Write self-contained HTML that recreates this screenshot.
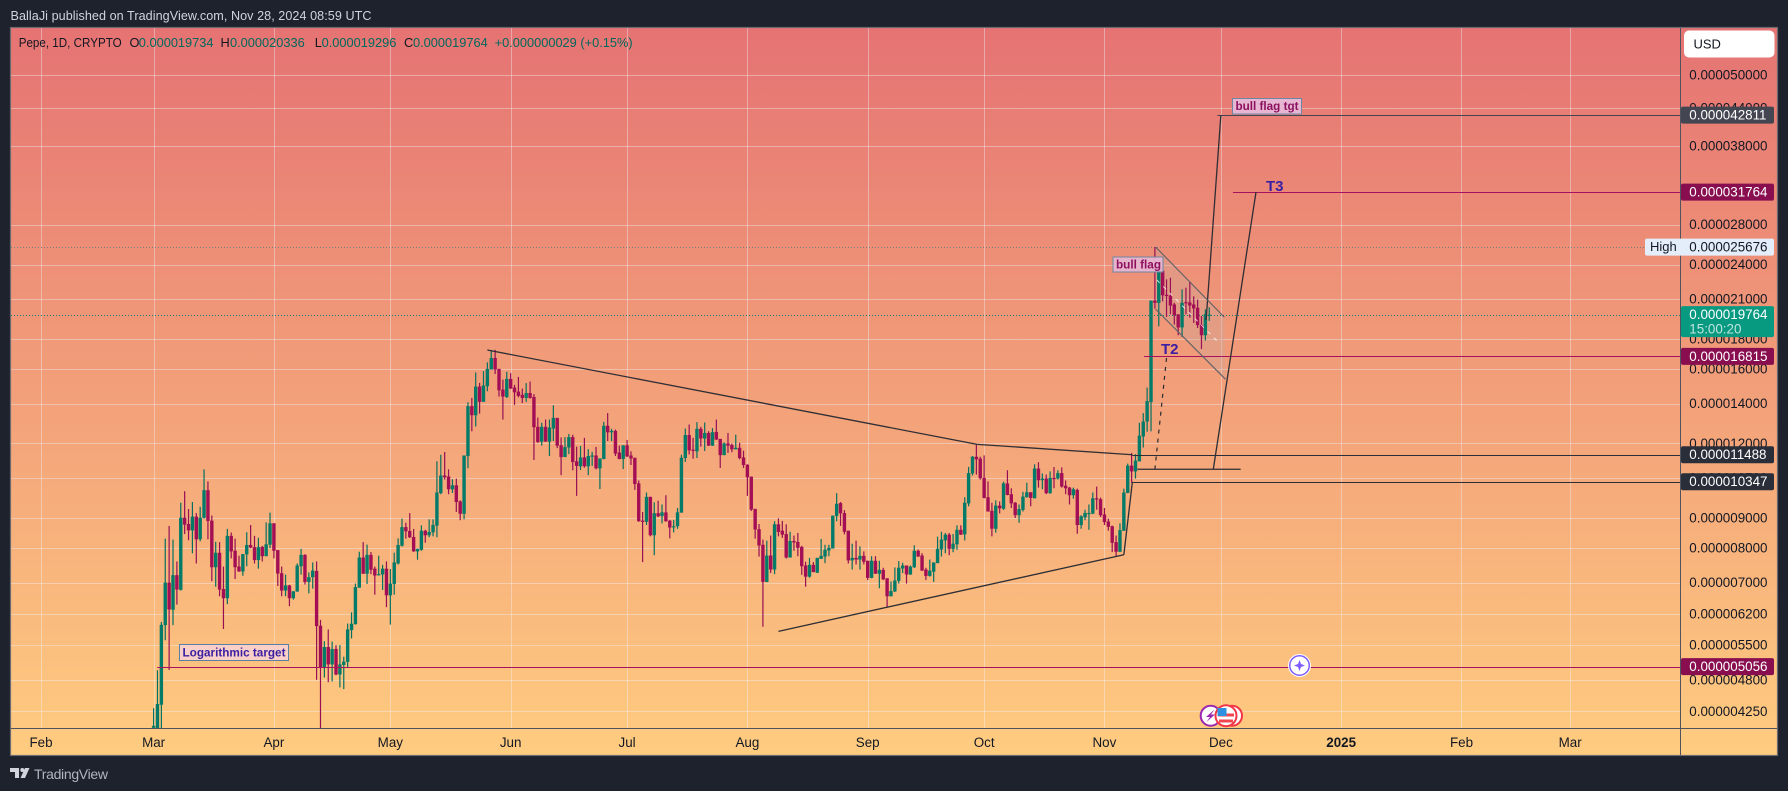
<!DOCTYPE html>
<html lang="en">
<head>
<meta charset="utf-8">
<title>Pepe 1D chart</title>
<style>
html,body{margin:0;padding:0;background:#1e222d;width:1788px;height:791px;overflow:hidden}
svg{display:block;font-family:"Liberation Sans",sans-serif}
</style>
</head>
<body>
<svg id="chart" xmlns="http://www.w3.org/2000/svg" width="1788" height="791" viewBox="0 0 1788 791">
  <defs>
    <linearGradient id="bg" x1="0" y1="0" x2="0" y2="1">
      <stop offset="0" stop-color="#E57373"/>
      <stop offset="1" stop-color="#FFCC80"/>
    </linearGradient>
    <clipPath id="pane"><rect x="11" y="28" width="1669" height="700"/></clipPath>
  </defs>
  <rect x="0" y="0" width="1788" height="791" fill="#1e222d"/>
  <text x="10.5" y="20" font-size="12.6" fill="#d1d4dc" textLength="361">BallaJi published on TradingView.com, Nov 28, 2024 08:59 UTC</text>
  <rect x="10.5" y="27.5" width="1767" height="728" fill="url(#bg)" stroke="#6a6a70" stroke-width="1.2"/>
  <g id="grid"></g>
  <g id="plot" clip-path="url(#pane)"></g>
  <line x1="1680.5" y1="28" x2="1680.5" y2="755" stroke="#50535e" stroke-width="1"/>
  <line x1="11" y1="728.5" x2="1777" y2="728.5" stroke="#50535e" stroke-width="1"/>
  <g id="yaxis"></g>
  <g id="xaxis"></g>
  <g id="tags"></g>

  <g font-size="12.8">
    <text x="18.7" y="47" fill="#131722" textLength="103" lengthAdjust="spacingAndGlyphs">Pepe, 1D, CRYPTO</text>
    <text x="129.5" y="47" fill="#131722">O</text>
    <text x="138.8" y="47" fill="#00695c">0.000019734</text>
    <text x="220.5" y="47" fill="#131722">H</text>
    <text x="230" y="47" fill="#00695c">0.000020336</text>
    <text x="314.7" y="47" fill="#131722">L</text>
    <text x="321.6" y="47" fill="#00695c">0.000019296</text>
    <text x="404" y="47" fill="#131722">C</text>
    <text x="413" y="47" fill="#00695c">0.000019764</text>
    <text x="494.6" y="47" fill="#00695c">+0.000000029 (+0.15%)</text>
  </g>

  <g>
    <rect x="1684" y="30.5" width="90.5" height="27" rx="5" fill="#ffffff"/>
    <text x="1693.5" y="48.5" font-size="13" fill="#131722">USD</text>
  </g>

  <g>
    <rect x="179.5" y="644.5" width="109" height="16" fill="#f8d0c8" stroke="#5b80a5" stroke-width="1"/>
    <text x="182.5" y="656.7" font-size="12.4" font-weight="bold" fill="#3b1fa3" textLength="103" lengthAdjust="spacingAndGlyphs">Logarithmic target</text>
    <rect x="1113" y="257" width="50" height="15" fill="#e6b6d2" fill-opacity="0.93" stroke="#6f86a3" stroke-width="1"/>
    <text x="1116" y="268.7" font-size="12.4" font-weight="bold" fill="#8e1160" textLength="45" lengthAdjust="spacingAndGlyphs">bull flag</text>
    <rect x="1232.5" y="98.5" width="69" height="15.5" fill="#e6b6d2" stroke="#6f86a3" stroke-width="1"/>
    <text x="1235.5" y="110.2" font-size="12.4" font-weight="bold" fill="#8e1160" textLength="63" lengthAdjust="spacingAndGlyphs">bull flag tgt</text>
    <text x="1266" y="191" font-size="15" font-weight="bold" fill="#3b1fa3">T3</text>
    <text x="1161" y="354" font-size="15" font-weight="bold" fill="#3b1fa3">T2</text>
  </g>

  <g>
    <circle cx="1299.5" cy="665.5" r="10" fill="#ffffff" stroke="#7e5cff" stroke-width="2"/>
    <circle cx="1299.5" cy="665.5" r="11" fill="none" stroke="#ffffff" stroke-width="1"/>
    <polygon points="1299.5,660 1301,664 1305,665.5 1301,667 1299.5,671 1298,667 1294,665.5 1298,664" fill="#7e5cff"/>
  </g>
  <g>
    <circle cx="1210.7" cy="715.7" r="10" fill="#ffffff" stroke="#9c27b0" stroke-width="2"/>
    <polygon points="1214.5,709.5 1206,717 1210,717 1206.5,722 1215,714.5 1211,714.5" fill="#9c27b0"/>
    <circle cx="1232" cy="715.7" r="10" fill="#ffffff" stroke="#f23645" stroke-width="2"/>
    <circle cx="1226" cy="715.7" r="10.5" fill="#ffffff" stroke="#f23645" stroke-width="2"/>
    <rect x="1218" y="713.5" width="16" height="3" fill="#f2464f"/>
    <rect x="1219" y="719.5" width="14" height="3" fill="#f2464f"/>
    <rect x="1217.5" y="708" width="9" height="8" fill="#2f8fe0"/>
  </g>

  <g>
    <polygon points="10,768 19,768 19,778 15,778 15,772 10,772" fill="#d1d4dc"/>
    <circle cx="22.3" cy="770" r="2" fill="#d1d4dc"/>
    <polygon points="25,768 29.5,768 25,778 20.5,778" fill="#d1d4dc"/>
    <text x="34" y="779" font-size="14" fill="#b2b5be" textLength="74">TradingView</text>
  </g>
</svg>
<script>
// Candle values are in billionths of a USD; index 0 is Mar 1, 2024.
const opens = [3990,3900,4363,5938,7000,6303,7206,6807,9000,8785,8570,9040,8280,9000,10014,8900,7430,7860,6830,6590,8390,7920,7450,7310,7810,8100,8030,7640,8040,7755,8110,8810,7940,7260,6790,6925,6590,6765,7460,7795,7020,7150,7325,5925,5050,5455,5100,5415,4905,5090,5150,5825,5960,6865,7715,7245,7795,7390,7215,7225,7390,6665,6965,7540,8075,8680,8550,8355,7900,7950,8560,8410,8505,8730,9900,10600,10560,10050,10205,9590,9140,11430,13865,13385,14960,14100,14980,15980,16710,16020,14785,14370,15410,14900,14670,14490,14315,14590,14370,12800,12085,12800,12085,12715,13250,11915,11385,11815,12300,11200,10985,11370,10985,11430,11455,10900,11300,12850,12530,12600,11585,11300,11915,11455,11355,10280,8900,8860,9760,8410,9160,9060,9190,8900,8700,8710,9180,11340,12400,11715,11640,12700,12235,12500,11900,12550,12215,11470,12000,11930,11730,11800,11370,11055,10555,9315,8610,8107,7020,7775,7365,8775,8560,8450,7715,8225,8195,8040,7480,7165,7500,7275,7675,7745,7930,7990,9065,9525,9165,8560,7630,7705,7655,7765,7620,7130,7620,7245,7355,7120,6640,6765,7050,7395,7480,7225,7430,7920,7775,7365,7185,7305,7550,7960,8245,8430,7980,8120,8590,8440,9515,10685,11400,11315,10500,9745,9245,8625,9435,9320,10280,9860,9540,9090,9280,9745,9935,9705,10890,10410,10475,9900,10500,10475,10700,10190,10115,9820,10025,8750,9015,9145,9145,9705,9670,9115,8870,8710,8190,7890,8560,9910,11015,10770,11200,12330,13065,14090,20870,20690,23425,21340,21280,20560,19790,18810,20740,20720,20560,20300,19000,18250,19734];
const highs = [4304,4985,6012,8300,8720,8270,7600,9540,9975,9310,9566,9165,9390,10856,10360,9080,8200,8190,7450,8620,8500,8300,7770,7820,8510,8750,8390,8330,8070,8840,9180,8810,7940,7450,7220,6940,6770,7540,7980,7815,7285,7570,7600,6060,5580,5840,5570,5495,5495,5255,5975,6240,6975,7890,8190,8110,7880,7450,7770,7500,7600,7380,7860,8310,8970,8830,9165,8620,7980,8740,8590,8945,8945,11200,11485,11610,10855,10450,10475,9630,11455,14080,14315,15800,15175,15880,16430,17225,17250,16020,15370,15840,15760,15060,15530,14845,15160,15255,14530,13265,13000,13165,13165,13915,13250,12285,12300,12450,12415,11855,11885,12265,11740,11615,11840,11325,13050,13500,12700,12665,11900,11915,12165,11640,11355,10400,9205,9925,9760,9555,9615,9475,9820,8925,8925,9345,11485,12715,12915,12265,13035,12800,13015,12585,12735,13165,12215,12050,12500,12000,12415,12035,11670,11070,10555,9315,8785,8270,8235,8400,8880,8980,8890,8775,8525,8400,8485,8075,7590,7705,7580,7705,8290,8107,8107,9075,9900,9565,9270,8560,8140,8235,8055,7900,7620,7755,7755,7620,7415,7120,7030,7425,7610,7560,7480,7480,8090,7960,7845,7415,7655,7570,8365,8525,8485,8485,8450,8740,8740,9745,10960,11430,11940,11400,11460,10360,9540,9630,9590,10345,10820,10090,9565,9475,9950,10310,9935,11070,11160,10685,10640,10770,10955,10815,10940,10400,10140,10115,10075,9090,9285,9475,9925,10155,9730,9350,8970,8730,8400,8805,10075,11100,11570,11515,13000,13500,14900,20870,25676,23430,23510,22655,22800,20690,19790,21800,21940,22470,21220,20950,19660,20170,20336];
const lows = [3960,3800,3850,5600,4992,5938,6430,6790,8450,8250,7843,7540,8215,8970,8280,7040,6890,6640,5850,6440,7690,7100,7300,7190,7460,8000,7540,7390,7600,7755,8000,7690,6910,6640,6640,6390,6555,6755,7220,6950,6715,6840,4805,3900,4847,4760,4775,4890,4665,4635,5050,5640,5950,6865,7245,6965,7235,6680,7195,6805,6365,5950,6680,7510,8050,8300,8320,7890,7650,7920,8170,8345,8375,8345,9860,10435,9860,9910,9205,8915,8945,10900,12580,12815,13470,14100,14690,15980,15700,14390,13165,14310,14825,13935,14350,14040,14100,14275,11255,12030,11900,12085,11430,12115,11785,10615,11385,11515,10815,9795,10830,10930,10615,11000,10855,10060,11285,12115,12115,11430,11285,10870,11385,11040,10025,8860,7580,8750,8375,7785,9025,8805,8860,8310,8505,8625,9180,11170,11500,11315,11340,11855,11655,11885,11885,12165,10915,11470,11570,11600,11730,11285,10915,9795,9240,8300,7745,5900,7010,7265,7235,8375,8325,7685,7715,7920,7755,7215,6890,7135,7285,7265,7675,7550,7755,7990,8880,8720,8440,7540,7365,7510,7365,7510,7070,7120,7245,6850,7070,6375,6640,6750,6975,7265,6975,7215,7410,7735,7325,7070,7165,7020,7550,7745,7845,7785,7875,7950,8420,8245,9410,10600,10640,10435,9695,9220,8375,8495,9155,9280,9820,9345,8990,8825,9220,9730,9410,9705,10115,10050,9860,9875,10090,10435,10115,9860,9475,9690,8460,8625,8915,8590,9130,9285,9025,8750,8560,7880,7755,7880,8550,9900,10310,10475,11190,11814,12560,12580,20230,18890,20815,19590,19800,19020,18250,18130,19800,19530,19140,18770,17300,17880,19296];
const closes = [4020,4375,5945,7000,6311,7206,6815,9000,8764,8570,9040,8280,9000,10014,8890,7430,7860,6815,6590,8390,7900,7430,7310,7820,8100,8020,7640,8030,7755,8120,8810,7920,7250,6790,6925,6590,6770,7480,7795,7020,7150,7335,5915,5050,5455,5100,5415,4905,5100,5155,5840,5970,6880,7715,7245,7795,7360,7195,7235,7390,6665,6975,7570,8100,8680,8540,8345,7900,7980,8560,8410,8516,8753,9925,10600,10530,10050,10205,9565,9140,11455,13865,13385,14960,14100,15020,16020,16710,15980,14745,14390,15410,14845,14630,14430,14315,14590,14315,12780,12065,12800,12085,12765,13250,11900,11385,11830,12300,11170,11000,11370,10985,11430,11455,10900,11325,12850,12530,12600,11540,11300,11915,11415,11325,10255,8880,8860,9760,8410,9160,9050,9190,8880,8665,8710,9190,11355,12400,11685,11685,12700,12235,12500,11900,12535,12185,11470,12000,11900,11730,11800,11340,11040,10530,9290,8600,8085,7020,7775,7365,8775,8520,8430,7715,8225,8180,8010,7460,7165,7500,7295,7705,7765,7950,8010,9075,9500,9155,8525,7630,7705,7655,7765,7590,7130,7620,7245,7355,7090,6640,6775,7060,7415,7480,7225,7450,7920,7745,7335,7185,7335,7570,7980,8270,8430,7980,8140,8590,8430,9540,10700,11400,11285,10490,9720,9220,8625,9435,9335,10280,9830,9515,9090,9310,9770,9935,9720,10890,10410,10475,9900,10500,10460,10700,10155,10090,9820,10050,8750,9050,9170,9170,9705,9670,9090,8850,8690,8170,7890,8580,9925,11015,10770,11230,12370,13065,14140,20870,20690,23425,21300,21280,20470,19730,18810,20690,20690,20470,20250,18980,18250,19800,19764];

const lastClose = 19764;
const highMark = 25676;

const yTickPrices = [50000,44000,38000,28000,24000,21000,18000,16000,14000,12000,10500,9000,8000,7000,6200,5500,4800,4250];
const monthTickDays = [-29,0,31,61,92,122,153,184,214,245,275,306,337,365];
const monthTickLabels = ["Feb","Mar","Apr","May","Jun","Jul","Aug","Sep","Oct","Nov","Dec","2025","Feb","Mar"];

const levelPrices = [42811,31764,16815,11488,10347,5056];
const levelStartDays = [274.1,278.1,255.2,252.2,252.2,0.95];
const levelColors = ["#434651","#a5125f","#a5125f","#2a2e39","#2a2e39","#a5125f"];

const trendStartDays = [86,212.2,161,250,284.05,275,253.5];
const trendStartPrices = [17235,11960,5797,7799,31764,42811,10860];
const trendEndDays = [212.2,252.2,250,252.2,273.05,271.2,280.1];
const trendEndPrices = [11960,11488,7799,10347,10860,19360,10860];

const flagDays = [258.2,275.9,276.2,258.2];
const flagPrices = [25676,19566,15385,20180];
const flagMidDays = [258.5,274.8];
const flagMidPrices = [22600,17640];
const t2Days = [261,258];
const t2Prices = [16710,10860];

const SVG_NS = "http://www.w3.org/2000/svg";
function xOf(day){ return 153.6 + 3.881 * day; }
function yOf(price){ return 75 + 258.2 * Math.log(50000 / price); }
function fmt(price){ return (price / 1e9).toFixed(9); }
function make(tag, parent, attrs){
  const node = document.createElementNS(SVG_NS, tag);
  for (const key in attrs) node.setAttribute(key, attrs[key]);
  parent.appendChild(node);
  return node;
}
const gridG = document.getElementById("grid");
const plotG = document.getElementById("plot");
const yG = document.getElementById("yaxis");
const xG = document.getElementById("xaxis");
const tagsG = document.getElementById("tags");
const GRID = "rgba(240,243,250,0.4)";

yTickPrices.forEach(function(p){
  const y = Math.round(yOf(p)) + 0.5;
  const line = make("line", gridG, {x1:11, x2:1680, y1:y, y2:y, stroke:GRID, "stroke-width":1});
  
  
  const label = make("text", yG, {x:1689.3, y:yOf(p)+4.5, "font-size":13.4, fill:"#131722"});
  
  
  label.textContent = fmt(p);
});

monthTickDays.forEach(function(d, i){
  const x = Math.round(xOf(d)) + 0.5;
  const line = make("line", gridG, {x1:x, x2:x, y1:28, y2:728, stroke:GRID, "stroke-width":1});
  
  
  const isYear = monthTickLabels[i] === "2025";
  const label = make("text", xG, {x:xOf(d), y:747, "font-size":13.4, fill:"#131722", "text-anchor":"middle", "font-weight":isYear?"bold":"normal"});
  
  
  label.textContent = monthTickLabels[i];
});

function pts(days, prices){
  return days.map(function(d, i){ return xOf(d).toFixed(1) + "," + yOf(prices[i]).toFixed(1); }).join(" ");
}

const flagFill = make("polygon", plotG, {points:pts(flagDays, flagPrices), fill:"rgba(200,170,160,0.3)"});



const highLine = make("line", plotG, {x1:11, x2:1645, y1:Math.round(yOf(highMark))+0.5, y2:Math.round(yOf(highMark))+0.5, stroke:"#7b7b80", "stroke-width":1, "stroke-dasharray":"1 2"});


const lastLine = make("line", plotG, {x1:11, x2:1680, y1:Math.round(yOf(lastClose))+0.5, y2:Math.round(yOf(lastClose))+0.5, stroke:"#008573", "stroke-width":1, "stroke-dasharray":"1 2"});



opens.forEach(function(o, i){
  const c = closes[i];
  const up = c >= o;
  const cx = xOf(i);
  const g = make("g", plotG, {});
  
  
  const hy = yOf(highs[i]), ly = yOf(lows[i]);
  const wick = make("rect", g, {x:cx-0.6, y:hy, width:1.2, height:Math.max(1, ly-hy), fill:up?"#04705f":"#960f55"});
  
  
  const ty = yOf(Math.max(o, c)), by = yOf(Math.min(o, c));
  const body = make("rect", g, {x:cx-1.7, y:ty, width:3.4, height:Math.max(1.2, by-ty), fill:up?"#047a68":"#a30e54"});
  
  
});

levelPrices.forEach(function(p, i){
  const y = Math.round(yOf(p)) + 0.5;
  const line = make("line", plotG, {x1:xOf(levelStartDays[i]), x2:1680, y1:y, y2:y, stroke:levelColors[i], "stroke-width":1});
  
  
});

trendStartDays.forEach(function(d, i){
  const line = make("line", plotG, {x1:xOf(d), y1:yOf(trendStartPrices[i]), x2:xOf(trendEndDays[i]), y2:yOf(trendEndPrices[i]), stroke:"#2e2e34", "stroke-width":1.3});
  
  
});

const flagTop = make("line", plotG, {x1:xOf(flagDays[0]), y1:yOf(flagPrices[0]), x2:xOf(flagDays[1]), y2:yOf(flagPrices[1]), stroke:"#5f5f66", "stroke-width":1.1});


const flagBottom = make("line", plotG, {x1:xOf(flagDays[3]), y1:yOf(flagPrices[3]), x2:xOf(flagDays[2]), y2:yOf(flagPrices[2]), stroke:"#5f5f66", "stroke-width":1.1});


const flagMid = make("line", plotG, {x1:xOf(flagMidDays[0]), y1:yOf(flagMidPrices[0]), x2:xOf(flagMidDays[1]), y2:yOf(flagMidPrices[1]), stroke:"rgba(255,255,255,0.75)", "stroke-width":1, "stroke-dasharray":"4 5"});


const t2Path = make("line", plotG, {x1:xOf(t2Days[0]), y1:yOf(t2Prices[0]), x2:xOf(t2Days[1]), y2:yOf(t2Prices[1]), stroke:"#2a2a30", "stroke-width":1.2, "stroke-dasharray":"4 5"});



const tagColors = ["#434651","#880e4f","#880e4f","#2a2e39","#2a2e39","#880e4f"];
levelPrices.forEach(function(p, i){
  const y = yOf(p);
  const box = make("rect", tagsG, {x:1681, y:y-8.5, width:93, height:17, rx:2, fill:tagColors[i]});
  
  
  const txt = make("text", tagsG, {x:1689.3, y:y+4.5, "font-size":13.4, fill:"#ffffff"});
  
  
  txt.textContent = fmt(p);
});

const highBox = make("rect", tagsG, {x:1645, y:yOf(highMark)-8.5, width:129, height:17, rx:2, fill:"#e3eefa"});


const highTxt = make("text", tagsG, {x:1650, y:yOf(highMark)+4, "font-size":13, fill:"#131722"});


highTxt.textContent = "High";
const highVal = make("text", tagsG, {x:1689.3, y:yOf(highMark)+4.5, "font-size":13.4, fill:"#131722"});


highVal.textContent = fmt(highMark);

const lastBox = make("rect", tagsG, {x:1681, y:yOf(lastClose)-8.5, width:93, height:31, rx:2, fill:"#089981"});


const lastVal = make("text", tagsG, {x:1689.3, y:yOf(lastClose)+4.5, "font-size":13.4, fill:"#ffffff"});


lastVal.textContent = fmt(lastClose);
const countdown = make("text", tagsG, {x:1689.3, y:yOf(lastClose)+19, "font-size":13.4, fill:"rgba(255,255,255,0.75)"});


countdown.textContent = "15:00:20";
</script>
</body>
</html>
